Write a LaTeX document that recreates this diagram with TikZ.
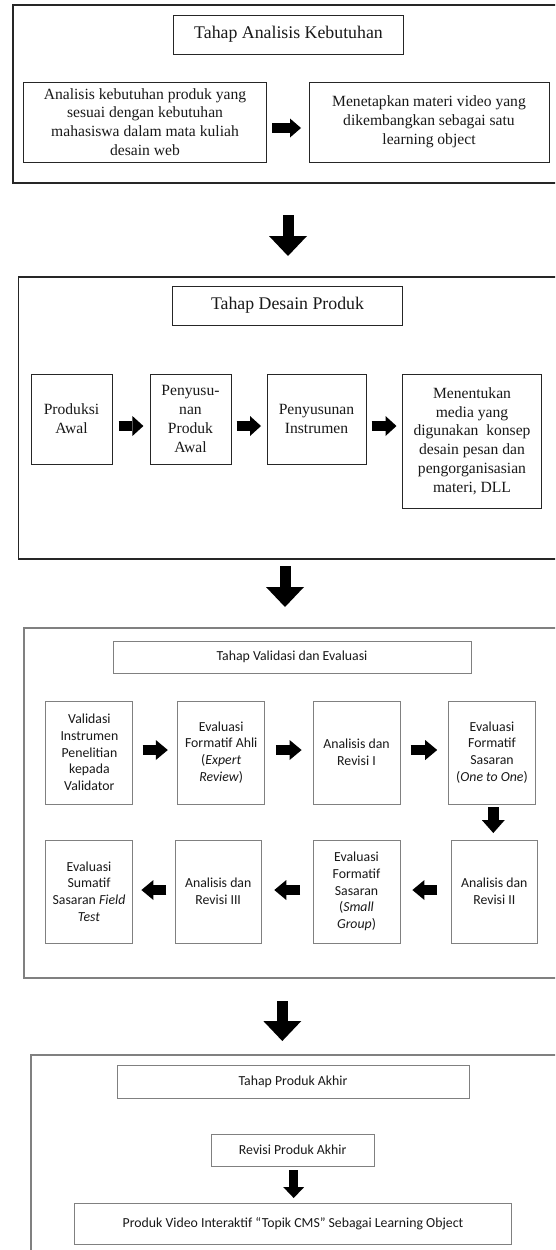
\documentclass[tikz,border=0pt]{standalone}
\usepackage{fontspec}
\usetikzlibrary{arrows.meta}
\newfontfamily\tnrfont{Liberation Serif}
\newfontfamily\calfont{Carlito}
\begin{document}
\begin{tikzpicture}[x=1pt,y=-1pt,
  outerA/.style={draw=black!85, line width=1.3pt, inner sep=0pt, outer sep=0pt, anchor=north west, minimum width=600pt},
  outerB/.style={draw=black!50, line width=1.1pt, inner sep=0pt, outer sep=0pt, anchor=north west, minimum width=600pt},
  tb/.style={draw=black!85, line width=1pt, inner sep=0pt, outer sep=0pt, align=center, text=black!90, font=\tnrfont\fontsize{15.6}{18.8}\selectfont},
  tt/.style={tb, font=\tnrfont\fontsize{17.8}{21}\selectfont},
  cb/.style={draw=black!50, line width=1pt, inner sep=0pt, outer sep=0pt, align=center, text=black!90, font=\calfont\fontsize{13.8}{16.7}\selectfont},
  arrA/.style={draw=black, line width=9.5pt, -{Triangle[width=19pt,length=11pt,line width=0pt]}},
  arrB/.style={draw=black, line width=10pt, -{Triangle[width=20pt,length=11pt,line width=0pt]}},
  arrC/.style={draw=black, line width=10pt, -{Triangle[width=20pt,length=12pt,line width=0pt]}},
  arrD/.style={draw=black, line width=11pt, -{Triangle[width=23pt,length=13pt,line width=0pt]}},
  arrE/.style={draw=black, line width=9pt, -{Triangle[width=21pt,length=11pt,line width=0pt]}},
  bigarr/.style={draw=black, line width=11pt, -{Triangle[width=38pt,length=20pt,line width=0pt]}}
]
\useasboundingbox (0,0) rectangle (555,1250);
\clip (0,0) rectangle (555,1250);
\fill[white] (0,0) rectangle (555,1250);

% ---------- Section 1 ----------
\node[outerA, minimum height=178pt] (O1) at (13,5) {};
\node[tt, minimum width=230pt, minimum height=39pt] (T1) at (288.5,34.5) {Tahap Analisis Kebutuhan};
\node[tb, minimum width=243.5pt, minimum height=80pt] (A1) at (145,122) {Analisis kebutuhan produk yang\\sesuai dengan kebutuhan\\mahasiswa dalam mata kuliah\\desain web};
\node[tb, minimum width=240pt, minimum height=80pt] (A2) at (429,122) {Menetapkan materi video yang\\dikembangkan sebagai satu\\learning object};
\draw[arrA, shorten <=5.5pt, shorten >=8pt] ([yshift=-6pt]A1.east) -- ([yshift=-6pt]A2.west);

% ---------- Section 2 ----------
\node[outerA, minimum height=282pt] (O2) at (18.4,277) {};
\node[tt, minimum width=230pt, minimum height=39pt] (T2) at (287.5,305.5) {Tahap Desain Produk};
\node[tb, minimum width=81pt, minimum height=90pt] (P1) at (71.5,419) {Produksi\\Awal};
\node[tb, minimum width=81pt, minimum height=90pt] (P2) at (190.5,419) {Penyusu-\\nan\\Produk\\Awal};
\node[tb, minimum width=99pt, minimum height=90pt] (P3) at (316.5,419) {Penyusunan\\Instrumen};
\node[tb, minimum width=139pt, minimum height=134pt] (P4) at (472,441) {Menentukan\\media yang\\digunakan\ \ konsep\\desain pesan dan\\pengorganisasian\\materi, DLL};
\draw[arrB, shorten <=6.6pt, shorten >=6.6pt] ([yshift=-7pt]P1.east) -- ([yshift=-7pt]P2.west);
\draw[arrB, shorten <=5.5pt, shorten >=6pt] ([yshift=-7pt]P2.east) -- ([yshift=-7pt]P3.west);
\coordinate (q3) at ([yshift=-7pt]P3.east);
\draw[arrB, shorten <=5.7pt, shorten >=6pt] (q3) -- (q3 -| P4.west);

\coordinate (k1) at (288,0);
\draw[bigarr, shorten <=32pt, shorten >=21pt] (k1 |- O1.south) -- (k1 |- O2.north);

% ---------- Section 3 ----------
\node[outerB, minimum height=350pt] (O3) at (24,628) {};
\node[cb, minimum width=358pt, minimum height=32pt] (T3) at (292,657) {Tahap Validasi dan Evaluasi};
\node[cb, minimum width=87pt, minimum height=103pt] (R11) at (89.4,752.5) {Validasi\\Instrumen\\Penelitian\\kepada\\Validator};
\node[cb, minimum width=87pt, minimum height=103pt] (R12) at (221.2,752.5) {Evaluasi\\Formatif Ahli\\(\textit{Expert}\\\textit{Review})};
\node[cb, minimum width=87pt, minimum height=103pt] (R13) at (356.5,752.5) {Analisis dan\\Revisi I};
\node[cb, minimum width=86.4pt, minimum height=103pt] (R14) at (492,752.5) {Evaluasi\\Formatif\\Sasaran\\(\textit{One to One})};
\node[cb, minimum width=87pt, minimum height=103pt] (R21) at (89,891.5) {Evaluasi\\Sumatif\\Sasaran \textit{Field}\\\textit{Test}};
\node[cb, minimum width=86pt, minimum height=103pt] (R22) at (218.2,891.5) {Analisis dan\\Revisi III};
\node[cb, minimum width=87pt, minimum height=103pt] (R23) at (356.5,891.5) {Evaluasi\\Formatif\\Sasaran\\(\textit{Small}\\\textit{Group})};
\node[cb, minimum width=86pt, minimum height=103pt] (R24) at (494.3,891.5) {Analisis dan\\Revisi II};

\draw[arrC, shorten <=9.6pt, shorten >=9.9pt] ([yshift=2.5pt]R11.east) -- ([yshift=2.5pt]R12.west);
\draw[arrC, shorten <=11.2pt, shorten >=11.4pt] ([yshift=2.5pt]R12.east) -- ([yshift=2.5pt]R13.west);
\draw[arrC, shorten <=10.6pt, shorten >=11.6pt] ([yshift=2.5pt]R13.east) -- ([yshift=2.5pt]R14.west);
\draw[arrD, shorten <=3pt, shorten >=7pt] ([xshift=1.3pt]R14.south) -- ([xshift=1.3pt]R14.south |- R24.north);
\draw[arrC, shorten <=14.1pt, shorten >=12.4pt] ([yshift=1.5pt]R24.west) -- ([yshift=1.5pt]R23.east);
\draw[arrC, shorten <=12.8pt, shorten >=13.1pt] ([yshift=1.5pt]R23.west) -- ([yshift=1.5pt]R22.east);
\draw[arrC, shorten <=8.8pt, shorten >=8.9pt] ([yshift=1.5pt]R22.west) -- ([yshift=1.5pt]R21.east);

\coordinate (k2) at (285,0);
\draw[bigarr, shorten <=7pt, shorten >=21pt] (k2 |- O2.south) -- (k2 |- O3.north);

% ---------- Section 4 ----------
\node[outerB, minimum height=250pt] (O4) at (31,1055) {};
\node[cb, minimum width=352pt, minimum height=33pt] (T4) at (293,1081.5) {Tahap Produk Akhir};
\node[cb, minimum width=163pt, minimum height=32pt] (RP) at (292.7,1150) {Revisi Produk Akhir};
\node[cb, minimum width=437pt, minimum height=41pt] (F) at (293,1223.5) {Produk Video Interaktif “Topik CMS” Sebagai Learning Object};
\draw[arrE, shorten <=4pt, shorten >=5pt] ([xshift=1pt]RP.south) -- ([xshift=1pt]RP.south |- F.north);

\coordinate (k3) at (282.3,0);
\draw[bigarr, shorten <=23pt, shorten >=14pt] (k3 |- O3.south) -- (k3 |- O4.north);
\end{tikzpicture}
\end{document}
